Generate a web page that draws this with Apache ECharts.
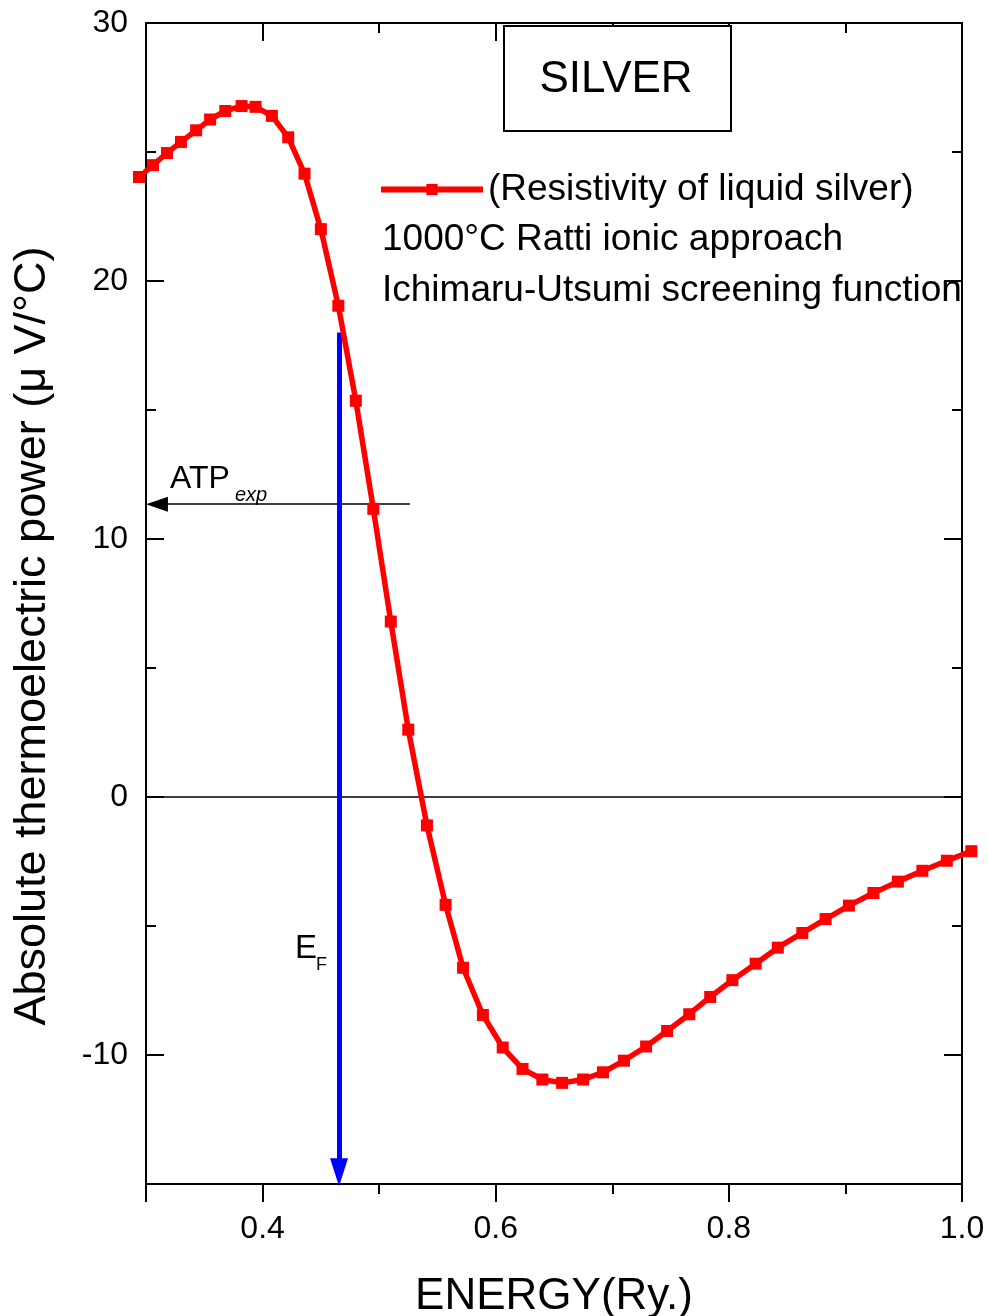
<!DOCTYPE html>
<html>
<head>
<meta charset="utf-8">
<script src="https://cdn.jsdelivr.net/npm/echarts@6/dist/echarts.min.js"></script>
<style>
  html, body { margin: 0; padding: 0; background: #fff; }
  #main { width: 988px; height: 1316px; }
</style>
</head>
<body>
<div id="main"></div>
<script>
// energy (Ry.) and absolute thermoelectric power (uV/°C)
const energy = [0.294, 0.306, 0.318, 0.330, 0.343, 0.355, 0.368, 0.382, 0.394, 0.408,
  0.422, 0.436, 0.450, 0.465, 0.480, 0.495, 0.510, 0.525, 0.541, 0.557,
  0.572, 0.589, 0.606, 0.623, 0.640, 0.657, 0.675, 0.692, 0.710, 0.729,
  0.747, 0.766, 0.784, 0.803, 0.823, 0.842, 0.863, 0.883, 0.903, 0.924,
  0.945, 0.966, 0.987, 1.008];
const atp = [24.03, 24.49, 24.96, 25.39, 25.84, 26.26, 26.59, 26.78, 26.75, 26.40,
  25.57, 24.16, 22.01, 19.04, 15.36, 11.17, 6.80, 2.61, -1.10, -4.18,
  -6.62, -8.45, -9.71, -10.54, -10.95, -11.08, -10.95, -10.67, -10.22, -9.67,
  -9.07, -8.42, -7.75, -7.10, -6.46, -5.84, -5.27, -4.73, -4.21, -3.72,
  -3.28, -2.86, -2.47, -2.10];

// annotations
const fermiEnergy = 0.4656;   // E_F arrow position
const fermiTop = 18;
const atpExp = 11.35;         // experimental ATP level
const atpArrowFrom = 0.5265;

const seriesName = '(Resistivity of liquid silver)';
const noteLines = ['1000°C Ratti ionic approach', 'Ichimaru-Utsumi screening function'];
const boxTitle = 'SILVER';

const xMin = 0.3, xMax = 1.0;
const yMin = -15, yMax = 30;

const font = "'Liberation Sans', Arial, sans-serif";
const myChart = echarts.init(document.getElementById('main'));

const frame = { color: '#000', width: 2 };

const option = {
  backgroundColor: '#fff',
  animation: false,
  grid: { left: 146, right: 26, top: 23, bottom: 132, outerBoundsMode: 'none', containLabel: false },
  legend: {
    left: 378,
    top: 171,
    padding: 0,
    itemWidth: 102,
    itemHeight: 14,
    lineStyle: { width: 6 },
    textStyle: { fontSize: 37, color: '#000', fontFamily: font },
    data: [seriesName],
  },
  xAxis: [
    {
      type: 'value', position: 'bottom', min: xMin, max: xMax, splitNumber: 3,
      axisLine: { onZero: false, lineStyle: frame },
      axisTick: { length: 18, lineStyle: frame },
      axisLabel: {
        margin: 29, fontSize: 32, color: '#000', fontFamily: font,
        formatter: (v) => (Math.abs(v - 0.3) < 1e-6 ? '' : v.toFixed(1)),
      },
      splitLine: { show: false },
      name: 'ENERGY(Ry.)', nameLocation: 'middle', nameGap: 91,
      nameTextStyle: { fontSize: 44, color: '#000', fontFamily: font },
    },
    {
      type: 'value', position: 'bottom', min: xMin, max: xMax, interval: 0.1,
      axisLine: { show: false, onZero: false },
      axisTick: { length: 10, lineStyle: frame },
      axisLabel: { show: false },
      splitLine: { show: false },
    },
    {
      type: 'value', position: 'top', min: xMin, max: xMax, splitNumber: 3,
      axisLine: { onZero: false, lineStyle: frame },
      axisTick: { inside: true, length: 18, lineStyle: frame },
      axisLabel: { show: false },
      splitLine: { show: false },
    },
    {
      type: 'value', position: 'top', min: xMin, max: xMax, interval: 0.1,
      axisLine: { show: false, onZero: false },
      axisTick: { inside: true, length: 10, lineStyle: frame },
      axisLabel: { show: false },
      splitLine: { show: false },
    },
  ],
  yAxis: [
    {
      type: 'value', position: 'left', min: yMin, max: yMax, splitNumber: 4,
      axisLine: { onZero: false, lineStyle: frame },
      axisTick: { inside: true, length: 18, lineStyle: frame },
      axisLabel: {
        margin: 18, fontSize: 32, color: '#000', fontFamily: font,
        formatter: (v) => (v % 10 === 0 ? String(v) : ''),
      },
      splitLine: { show: false },
    },
    {
      type: 'value', position: 'left', min: yMin, max: yMax, interval: 5,
      axisLine: { show: false, onZero: false },
      axisTick: { inside: true, length: 10, lineStyle: frame },
      axisLabel: { show: false },
      splitLine: { show: false },
    },
    {
      type: 'value', position: 'right', min: yMin, max: yMax, splitNumber: 4,
      axisLine: { onZero: false, lineStyle: frame },
      axisTick: { inside: true, length: 18, lineStyle: frame },
      axisLabel: { show: false },
      splitLine: { show: false },
    },
    {
      type: 'value', position: 'right', min: yMin, max: yMax, interval: 5,
      axisLine: { show: false, onZero: false },
      axisTick: { inside: true, length: 10, lineStyle: frame },
      axisLabel: { show: false },
      splitLine: { show: false },
    },
  ],
  series: [
    {
      name: seriesName,
      type: 'line',
      xAxisIndex: 0,
      yAxisIndex: 0,
      clip: false,
      data: energy.map((e, i) => [e, atp[i]]),
      symbol: 'rect',
      symbolSize: 12,
      lineStyle: { color: '#ff0000', width: 5.5 },
      itemStyle: { color: '#ff0000' },
      z: 5,
      markLine: {
        silent: true,
        animation: false,
        label: { show: false },
        symbol: ['none', 'none'],
        data: [
          // zero line
          { yAxis: 0, lineStyle: { color: '#000', width: 1.5, type: 'solid' } },
          // ATP exp arrow pointing to the y axis
          [
            { coord: [atpArrowFrom, atpExp], lineStyle: { color: '#000', width: 1.5, type: 'solid' } },
            { coord: [xMin + 0.0094, atpExp], symbol: 'triangle', symbolSize: [15, 22] },
          ],
          // Fermi energy arrow
          [
            { coord: [fermiEnergy, fermiTop], lineStyle: { color: '#0000ff', width: 5, type: 'solid' } },
            { coord: [fermiEnergy, yMin + 0.46], symbol: 'triangle', symbolSize: [18, 28] },
          ],
        ],
      },
    },
  ],
  graphic: [
    {
      type: 'rect', left: 503, top: 25, z: 10,
      shape: { width: 227, height: 105 },
      style: { fill: '#fff', stroke: '#000', lineWidth: 2 },
    },
    {
      type: 'text', x: 616, y: 80, z: 11,
      style: { text: boxTitle, fontSize: 44, fontFamily: font, fill: '#000', align: 'center', verticalAlign: 'middle' },
    },
    {
      type: 'text', x: 382, y: 240, z: 11,
      style: { text: noteLines[0], fontSize: 37, fontFamily: font, fill: '#000', align: 'left', verticalAlign: 'middle' },
    },
    {
      type: 'text', x: 382, y: 291, z: 11,
      style: { text: noteLines[1], fontSize: 37, fontFamily: font, fill: '#000', align: 'left', verticalAlign: 'middle' },
    },
    {
      type: 'text', x: 33, y: 636, rotation: Math.PI / 2, z: 11,
      style: { text: 'Absolute thermoelectric power (μ V/°C)', fontSize: 45, fontFamily: font, fill: '#000', align: 'center', verticalAlign: 'middle' },
    },
    {
      type: 'text', x: 170, y: 479, z: 11,
      style: { text: 'ATP', fontSize: 32, fontFamily: font, fill: '#000', align: 'left', verticalAlign: 'middle' },
    },
    {
      type: 'text', x: 235, y: 495, z: 11,
      style: { text: 'exp', fontSize: 20, fontStyle: 'italic', fontFamily: font, fill: '#000', align: 'left', verticalAlign: 'middle' },
    },
    {
      type: 'text', x: 295, y: 949, z: 11,
      style: { text: 'E', fontSize: 33, fontFamily: font, fill: '#000', align: 'left', verticalAlign: 'middle' },
    },
    {
      type: 'text', x: 316, y: 965, z: 11,
      style: { text: 'F', fontSize: 18, fontFamily: font, fill: '#000', align: 'left', verticalAlign: 'middle' },
    },
  ],
};

myChart.setOption(option);
</script>
</body>
</html>
